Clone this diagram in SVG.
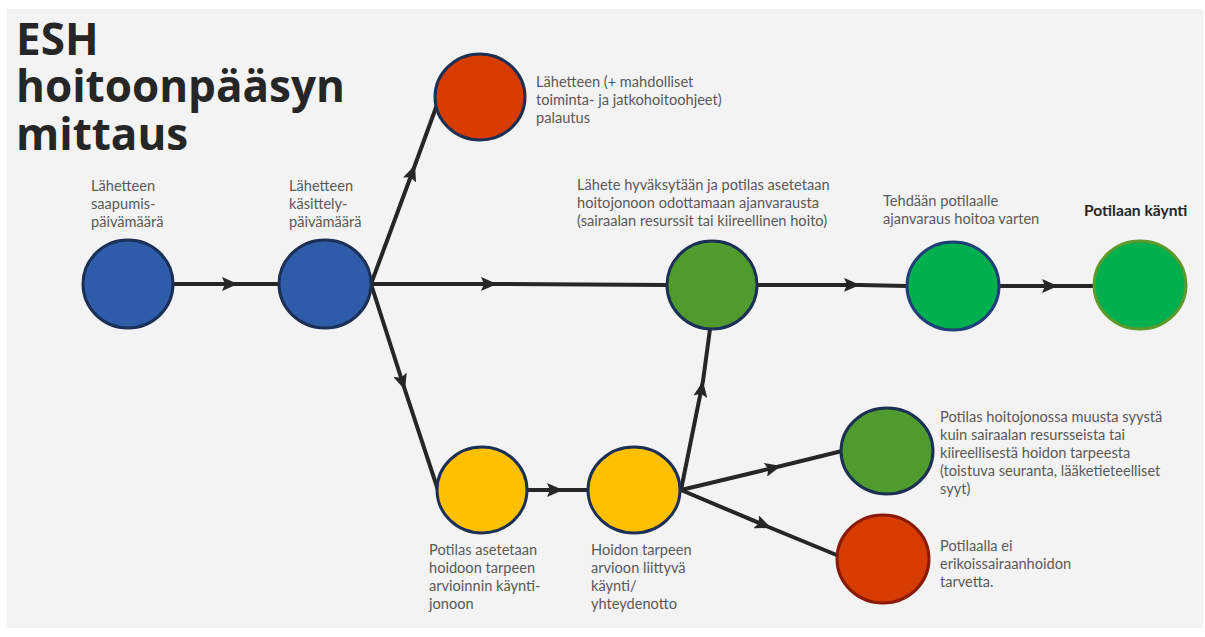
<svg xmlns="http://www.w3.org/2000/svg" width="1205" height="637" viewBox="0 0 1205 637">
  <style>
    .title { font-family: "Open Sans", "Noto Sans", sans-serif; font-weight: 700; font-size: 44px; fill: #262626; }
    .lbl { font-family: Lato, "Open Sans", sans-serif; font-size: 14.6px; fill: #595959; }
    .lbl-b { font-family: Lato, "Open Sans", sans-serif; font-size: 15.6px; font-weight: 700; fill: #262626; }
    .edge { fill: none; stroke: #262626; stroke-width: 4; stroke-linecap: round; marker-mid: url(#arrow); }
    .node { stroke-width: 3; }
    .blue { fill: #2f5ca8; stroke: #1c2f55; }
    .red { fill: #d63c00; stroke: #1c2f55; }
    .red-dark { fill: #d63c00; stroke: #8a1a05; }
    .green { fill: #4f9b2e; stroke: #1c2f55; }
    .green-b { fill: #00b04f; stroke: #1f3f78; }
    .green-o { fill: #00b04f; stroke: #5c9a2c; }
    .yellow { fill: #ffc000; stroke: #1c2f55; }
  </style>
  <defs>
    <marker id="arrow" markerUnits="userSpaceOnUse" viewBox="0 0 16 14" markerWidth="16" markerHeight="14" refX="16" refY="7" orient="auto">
      <path d="M0,0 L16,7 L0,14 L3,7 z" fill="#262626"/>
    </marker>
  </defs>

  <!-- page background -->
  <rect x="0" y="0" width="1205" height="637" fill="#ffffff"/>
  <rect x="7" y="9" width="1196" height="619" fill="#f3f3f3"/>

  <!-- title -->
  <g id="title">
    <text class="title" x="16" y="55">ESH</text>
    <text class="title" x="16" y="102">hoitoonpääsyn</text>
    <text class="title" x="16" y="150">mittaus</text>
  </g>

  <!-- connectors: each path passes through the arrow tip as a middle vertex -->
  <g id="connectors">
    <path class="edge" d="M174,284 L238,284 L279,284"/>
    <path class="edge" d="M371,284 L415,165 L438,102"/>
    <path class="edge" d="M371,284 L497,284 L667,285"/>
    <path class="edge" d="M758,285 L860,285 L907,286"/>
    <path class="edge" d="M999,286 L1058,286 L1093,286"/>
    <path class="edge" d="M371,284 L405,390 L438,490"/>
    <path class="edge" d="M527,490 L563,490 L589,490"/>
    <path class="edge" d="M681,490 L703,381 L710,329"/>
    <path class="edge" d="M681,490 L781,466 L842,451"/>
    <path class="edge" d="M681,490 L771,528 L839,556"/>
  </g>

  <g id="n-saapumis">
    <ellipse class="node blue" cx="128" cy="284" rx="45" ry="44"/>
    <text class="lbl" x="91"><tspan x="91" y="191">Lähetteen</tspan><tspan x="91" y="209">saapumis-</tspan><tspan x="91" y="227">päivämäärä</tspan></text>
  </g>

  <g id="n-kasittely">
    <ellipse class="node blue" cx="325" cy="284" rx="46" ry="44"/>
    <text class="lbl" x="289"><tspan x="289" y="191">Lähetteen</tspan><tspan x="289" y="209">käsittely-</tspan><tspan x="289" y="227">päivämäärä</tspan></text>
  </g>

  <g id="n-palautus">
    <ellipse class="node red" cx="480" cy="97" rx="45" ry="43"/>
    <text class="lbl" x="536"><tspan x="536" y="87">Lähetteen (+ mahdolliset</tspan><tspan x="536" y="105">toiminta- ja jatkohoitoohjeet)</tspan><tspan x="536" y="123">palautus</tspan></text>
  </g>

  <g id="n-hyvaksytaan">
    <ellipse class="node green" cx="712" cy="285" rx="45" ry="44"/>
    <text class="lbl" x="577"><tspan x="577" y="190">Lähete hyväksytään ja potilas asetetaan</tspan><tspan x="577" y="208">hoitojonoon odottamaan ajanvarausta</tspan><tspan x="577" y="226">(sairaalan resurssit tai kiireellinen hoito)</tspan></text>
  </g>

  <g id="n-ajanvaraus">
    <ellipse class="node green-b" cx="953" cy="286" rx="46" ry="44"/>
    <text class="lbl" x="883"><tspan x="883" y="206">Tehdään potilaalle</tspan><tspan x="883" y="224">ajanvaraus hoitoa varten</tspan></text>
  </g>

  <g id="n-kaynti">
    <ellipse class="node green-o" cx="1140" cy="285" rx="46" ry="44"/>
    <text class="lbl-b" x="1084" y="216">Potilaan käynti</text>
  </g>

  <g id="n-arviointijono">
    <ellipse class="node yellow" cx="482" cy="490" rx="45" ry="43"/>
    <text class="lbl" x="429"><tspan x="429" y="555">Potilas asetetaan</tspan><tspan x="429" y="573">hoidoon tarpeen</tspan><tspan x="429" y="591">arvioinnin käynti-</tspan><tspan x="429" y="609">jonoon</tspan></text>
  </g>

  <g id="n-arviokaynti">
    <ellipse class="node yellow" cx="634" cy="490" rx="46" ry="43"/>
    <text class="lbl" x="591"><tspan x="591" y="555">Hoidon tarpeen</tspan><tspan x="591" y="573">arvioon liittyvä</tspan><tspan x="591" y="591">käynti/</tspan><tspan x="591" y="609">yhteydenotto</tspan></text>
  </g>

  <g id="n-muu-syy">
    <ellipse class="node green" cx="887" cy="451" rx="46" ry="43"/>
    <text class="lbl" x="940"><tspan x="940" y="422">Potilas hoitojonossa muusta syystä</tspan><tspan x="940" y="440">kuin sairaalan resursseista tai</tspan><tspan x="940" y="458">kiireellisestä hoidon tarpeesta</tspan><tspan x="940" y="476">(toistuva seuranta, lääketieteelliset</tspan><tspan x="940" y="494">syyt)</tspan></text>
  </g>

  <g id="n-ei-tarvetta">
    <ellipse class="node red-dark" cx="883" cy="559" rx="46" ry="44"/>
    <text class="lbl" x="940"><tspan x="940" y="551">Potilaalla ei</tspan><tspan x="940" y="569">erikoissairaanhoidon</tspan><tspan x="940" y="587">tarvetta.</tspan></text>
  </g>
</svg>
